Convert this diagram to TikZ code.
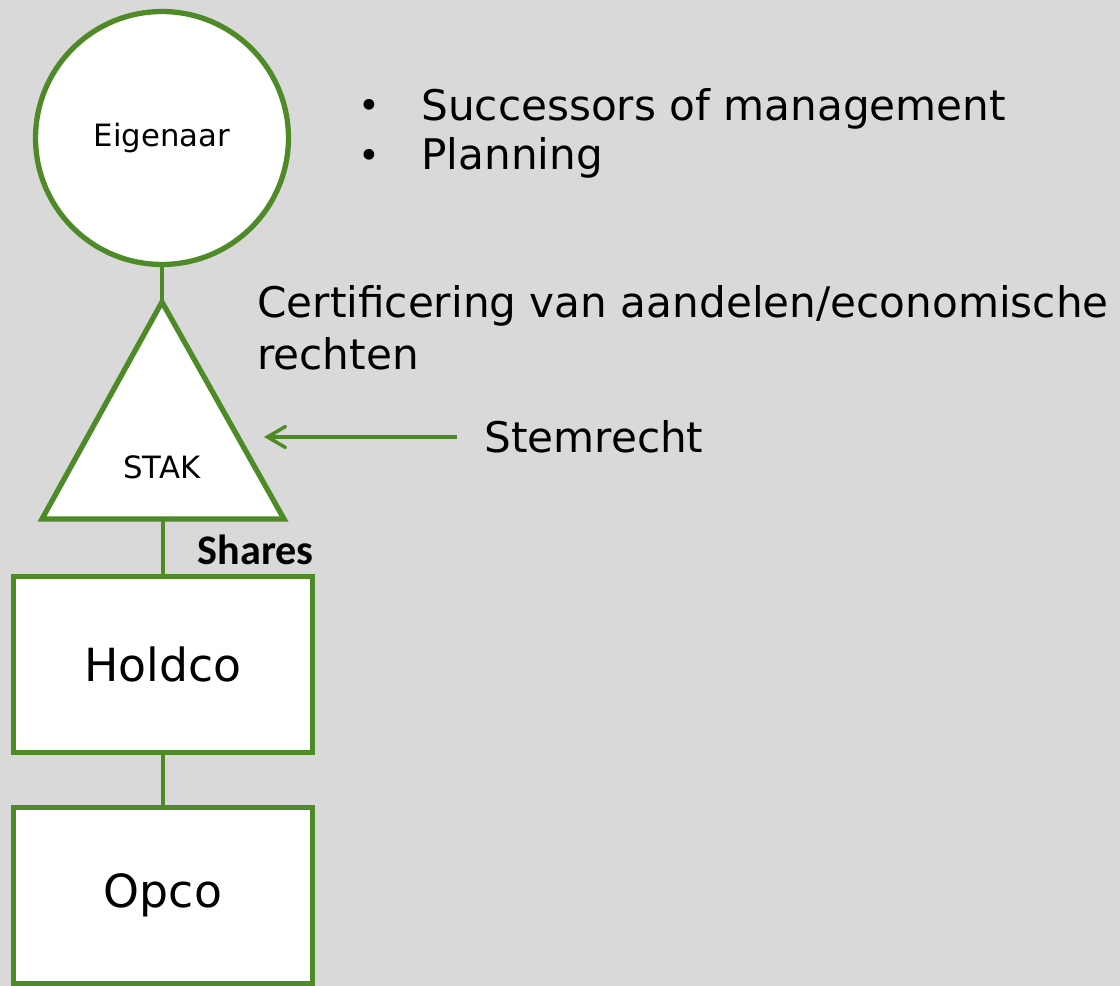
\documentclass[tikz,border=0pt]{standalone}
\usepackage{fontspec}
\setmainfont{DejaVu Sans}
\newfontfamily\calibrifont{Carlito}
\usetikzlibrary{arrows.meta,positioning}
\definecolor{bggray}{HTML}{D9D9D9}
\definecolor{ggreen}{HTML}{4E8A28}
\tikzset{
  entity/.style={draw=ggreen, line width=3pt, fill=white},
  link/.style={draw=ggreen, line width=2.3pt},
  arr/.style={draw=ggreen, line width=2pt, -{Straight Barb[length=0.36cm,width=0.42cm,line cap=round]}},
  txt/.style={inner sep=0pt, font=\fontsize{24}{29.5}\selectfont},
  smalltxt/.style={inner sep=0pt, font=\fontsize{17.5}{21}\selectfont},
}
\begin{document}
\begin{tikzpicture}[x=0.02cm, y=-0.02cm]
    \fill[bggray] (0,0) rectangle (1120,986);
    \useasboundingbox (0,0) rectangle (1120,986);

    % owner and trust office
    \node[entity, circle, minimum size=5.06cm, inner sep=0pt, font=\fontsize{17.5}{21}\selectfont] at (162,138) (eig){Eigenaar};
    \coordinate (apex) at (162,302);
    \coordinate (base) at (163,519);
    \draw[link] (eig.south) -- (apex);
    \draw[entity] (apex) -- (284,519) -- (42,519) -- cycle;
    \node[smalltxt] at (162,467) (stak){STAK};

    % companies
    \node[entity, minimum width=5.98cm, minimum height=3.52cm, font=\fontsize{26}{31}\selectfont] at (163,664.5) (hold){Holdco};
    \node[entity, minimum width=5.98cm, minimum height=3.52cm, font=\fontsize{26}{31}\selectfont, below=1cm of hold] (opco){Opco};
    \draw[link] (base) -- (hold.north);
    \draw[link] (hold.south) -- (opco.north);
    \node[inner sep=0pt, anchor=base east, font=\calibrifont\bfseries\fontsize{24}{28}\selectfont] at ([yshift=0.18cm, xshift=-0.02cm]hold.north east) (shares){Shares};

    % texts on the right
    \node[txt, anchor=base west] at (421,121) (succ){Successors of management};
    \node[txt, anchor=base west] at (421,170) (plan){Planning};
    \node[inner sep=0pt, anchor=base, font=\fontsize{21}{25}\selectfont] at (369,119) (b1){\textbullet};
    \node[inner sep=0pt, anchor=base, font=\fontsize{21}{25}\selectfont] at (369,169) (b2){\textbullet};
    \node[txt, anchor=north west, align=left] at (257,285) (cert){Certificering van aandelen/economische\\rechten};

    \node[txt, anchor=west] at (484,437) (stem){Stemrecht};
    \coordinate (vote) at (264,437);
    \draw[arr] ([xshift=-0.54cm]stem.west) -- (vote);
\end{tikzpicture}
\end{document}
